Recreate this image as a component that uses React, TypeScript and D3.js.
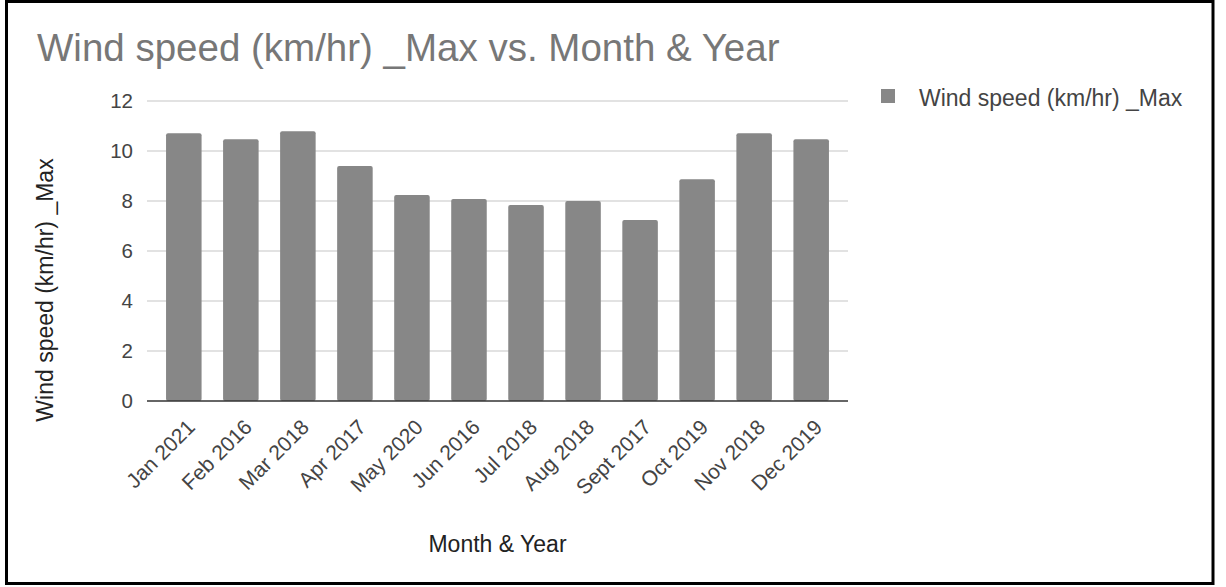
import React from "react";
import * as d3 from "d3";

const categories = ["Jan 2021","Feb 2016","Mar 2018","Apr 2017","May 2020","Jun 2016","Jul 2018","Aug 2018","Sept 2017","Oct 2019","Nov 2018","Dec 2019"];
const windMax = [10.71, 10.47, 10.79, 9.4, 8.24, 8.08, 7.84, 8.0, 7.24, 8.87, 10.71, 10.47];
const yTicks = [0, 2, 4, 6, 8, 10, 12];
const title = "Wind speed (km/hr) _Max vs. Month & Year";
const seriesName = "Wind speed (km/hr) _Max";
const xTitle = "Month & Year";

const W = 1226, H = 587;
const left = 147, right = 848, top = 101, bottom = 401;
const font = "'Liberation Sans', Arial, sans-serif";

export default function App() {
  const x = d3.scaleBand<string>().domain(categories).range([left, right]).paddingInner(0.377).paddingOuter(0.334);
  const y = d3.scaleLinear().domain([0, 12]).range([bottom, top]);
  return (
    <svg width={W} height={H} style={{ position: "absolute", left: 0, top: 0, background: "#fff" }} fontFamily={font}>
      <rect x={6.5} y={1.5} width={1206.5} height={582} fill="#fff" stroke="#000" strokeWidth={3} />
      <text x={37} y={61} fontSize={38.5} fill="#777">{title}</text>
      {yTicks.map(t => (
        <g key={t}>
          {t !== 0 && <line x1={left} x2={right} y1={y(t)} y2={y(t)} stroke="#d9d9d9" strokeWidth={1.5} />}
          <text x={133} y={y(t)} dy="0.35em" textAnchor="end" fontSize={20.5} fill="#444">{t}</text>
        </g>
      ))}
      {categories.map((c, i) => (
        <rect key={c} x={x(c)} y={y(windMax[i])} width={x.bandwidth()} height={y(0) - y(windMax[i])} fill="#878787" rx={2} />
      ))}
      <line x1={left} x2={right} y1={bottom} y2={bottom} stroke="#333" strokeWidth={1.5} />
      {categories.map(c => {
        const cx = (x(c) as number) + x.bandwidth() / 2;
        return (
          <text key={c} transform={`translate(${cx + 2},${418}) rotate(-45)`} textAnchor="end" dy="0.7em" fontSize={21} fill="#444">{c}</text>
        );
      })}
      <text x={(left + right) / 2} y={552} textAnchor="middle" fontSize={23} fill="#222">{xTitle}</text>
      <text transform={`translate(53,${(155 + 425) / 2}) rotate(-90)`} textAnchor="middle" fontSize={23} fill="#222">{seriesName}</text>
      <rect x={881} y={89} width={14} height={14} fill="#878787" />
      <text x={919} y={98} dy="0.35em" fontSize={23} fill="#444">{seriesName}</text>
    </svg>
  );
}
